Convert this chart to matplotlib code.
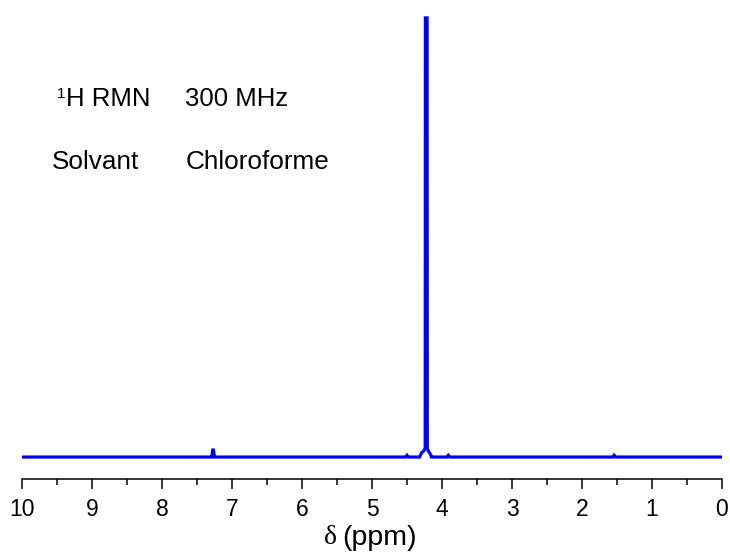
import numpy as np
import matplotlib.pyplot as plt

plt.rcParams['font.family'] = ['Liberation Sans', 'DejaVu Sans']

# spectrum: chemical shift (ppm) and intensity (peak = 100)
PPM = [10.0, 7.32, 7.29, 7.275, 7.265, 7.25, 7.22, 4.52, 4.50, 4.48,
       4.32, 4.29, 4.26, 4.240, 4.237, 4.213, 4.210, 4.19, 4.17, 4.15,
       4.13, 3.93, 3.91, 3.89, 1.56, 1.54, 1.52, 0.0]
INTENSITY = [0.0, 0.0, 0.0, 1.6, 1.6, 0.0, 0.0, 0.0, 0.4, 0.0,
             0.0, 1.0, 1.4, 2.0, 100.0, 100.0, 2.0, 1.2, 0.8, 0.0,
             0.0, 0.0, 0.4, 0.0, 0.0, 0.4, 0.0, 0.0]

X_TICKS = [10, 9, 8, 7, 6, 5, 4, 3, 2, 1, 0]


def main():
    fig = plt.figure(figsize=(7.30, 5.54), dpi=100)
    ax = fig.add_axes([22 / 730, 75 / 554, 700 / 730, 469 / 554])
    ax.plot(PPM, INTENSITY, color='#0000ff', linewidth=2.3, solid_joinstyle='miter')

    ax.set_xlim(10, 0)
    ax.set_ylim(-5.0, 101.8)
    for side in ['top', 'left', 'right']:
        ax.spines[side].set_visible(False)
    ax.spines['bottom'].set_linewidth(1.1)
    ax.set_yticks([])
    ax.set_xticks(X_TICKS)
    ax.set_xticks(np.arange(0.5, 10, 1.0), minor=True)
    ax.tick_params(axis='x', which='major', direction='out', length=7.5, width=1.1,
                   labelsize=16.5, pad=6)
    ax.tick_params(axis='x', which='minor', direction='out', length=4, width=1.1)

    # x label: serif delta followed by sans "(ppm)"
    fig.text(324 / 730, 1 - 537 / 554, 'δ', family='Liberation Serif', fontsize=20,
             va='center', ha='left')
    fig.text(342 / 730, 1 - 538 / 554, '(ppm)', fontsize=20.5, va='center', ha='left')

    # annotations
    fig.text(57 / 730, 1 - 87 / 554, '1', fontsize=11, va='top', ha='left')
    fig.text(66 / 730, 1 - 106 / 554, 'H RMN', fontsize=18.5, va='baseline', ha='left')
    fig.text(185 / 730, 1 - 106 / 554, '300 MHz', fontsize=18.5, va='baseline', ha='left')
    fig.text(52 / 730, 1 - 169 / 554, 'Solvant', fontsize=18.8, va='baseline', ha='left')
    fig.text(186 / 730, 1 - 169 / 554, 'Chloroforme', fontsize=18.8, va='baseline', ha='left')

    fig.savefig('out.png', dpi=100)


main()
